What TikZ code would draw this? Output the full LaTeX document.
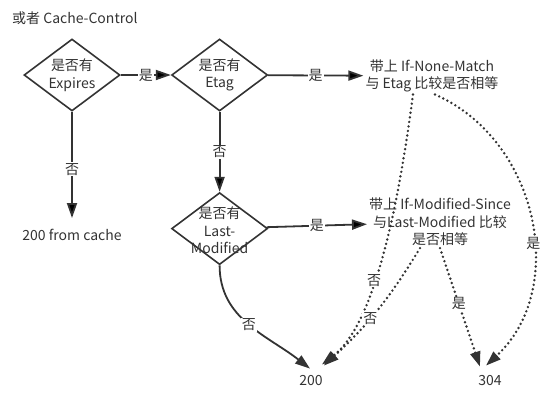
\documentclass[tikz,border=0pt]{standalone}
\usepackage{fontspec}
\setmainfont{Noto Sans CJK SC}
\usetikzlibrary{arrows.meta,shapes.geometric,positioning}
\definecolor{ink}{HTML}{333333}

\begin{document}
\begin{tikzpicture}[x=1pt,y=-1pt,>={Triangle[length=15pt,width=10pt]},
    font=\fontsize{14}{17.5}\selectfont,node distance=50pt,
    decision/.style={diamond,draw=ink,line width=1.6pt,minimum width=96pt,
                     minimum height=72pt,inner sep=0pt},
    txt/.style={align=center,text=ink,inner sep=2pt},
    lbl/.style={fill=white,inner sep=1pt,text=ink},
    solidarr/.style={->,draw=ink,line width=1.8pt},
    dotarr/.style={->,draw=ink,line width=2.7pt,line cap=round,
                   dash pattern=on 0pt off 4.6pt}]

    \useasboundingbox (0,0) rectangle (558,400);

    \node[txt,anchor=west] (title) at (10,18) {或者 Cache-Control};

    \node[decision,label={[txt]center:是否有\\Expires}] (expires) at (72,75) {};
    \node[decision,label={[txt]center:是否有\\Etag}] (etag) [right=of expires] {};
    \node[txt] (nonematch) at (432,76) {带上 If-None-Match\\与 Etag 比较是否相等};

    \node[txt] (cache) at (72,235) {200 from cache};
    \node[decision,label={[txt,yshift=-2pt]center:是否有\\Last-\\Modified}] (lastmod) [below=80pt of etag] {};
    \node[txt] (modsince) at (440,222) {带上 If-Modified-Since\\与Last-Modified 比较\\是否相等};

    \node[txt] (ok200) at (311,381) {200};
    \node[txt] (nm304) at (490,381) {304};

    % solid arrows
    \path[solidarr] (expires) edge node[lbl] {是} (etag)
                              edge[shorten >=9pt] node[lbl] {否} (cache)
                    (etag) edge node[lbl] {是} (nonematch)
                           edge node[lbl] {否} (lastmod)
                    (lastmod) edge node[lbl] {是} (modsince);
    \draw[solidarr] (lastmod.south) to[out=-90,in=142] node[lbl] {否}
        ([shift={(-1,-5)}]ok200.north);

    % dotted arrows
    \draw[dotarr] ([xshift=-19pt]nonematch.south) .. controls +(-18,137) and +(48,-37) ..
        node[lbl,pos=0.55] {否} ([shift={(-3,-9)}]ok200.north east);
    \draw[dotarr] ([xshift=-20pt]modsince.south) to[bend left=8]
        node[lbl,pos=0.57] {否} ([shift={(-1,-8)}]ok200.north east);
    \draw[dotarr] ([xshift=3pt]nonematch.south) .. controls +(103,45) and +(83,-77) ..
        node[lbl,pos=0.58] {是} ([shift={(-4,-8)}]nm304.north);
    \draw[dotarr] (modsince.south) -- node[lbl,pos=0.47] {是}
        ([shift={(-10,-7)}]nm304.north);
\end{tikzpicture}
\end{document}
